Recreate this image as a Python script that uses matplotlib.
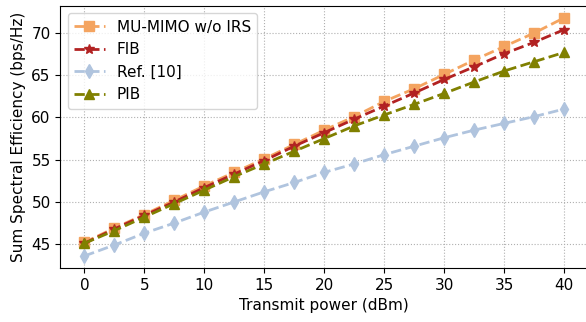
import matplotlib
matplotlib.use("Agg")
import matplotlib.pyplot as plt

power = [0, 2.5, 5, 7.5, 10, 12.5, 15, 17.5, 20, 22.5, 25, 27.5, 30, 32.5, 35, 37.5, 40]

mu_mimo = [45.2, 46.9, 48.5, 50.2, 51.9, 53.5, 55.1, 56.8, 58.5, 60.1,
           61.9, 63.4, 65.1, 66.8, 68.4, 70.0, 71.8]
fib = [45.1, 46.8, 48.4, 50.0, 51.7, 53.3, 54.9, 56.6, 58.2, 59.8,
       61.35, 62.9, 64.5, 66.0, 67.55, 68.9, 70.4]
ref10 = [43.6, 44.9, 46.3, 47.5, 48.8, 50.0, 51.2, 52.3, 53.5, 54.5,
         55.6, 56.6, 57.6, 58.5, 59.3, 60.1, 61.0]
pib = [45.1, 46.6, 48.2, 49.8, 51.4, 53.0, 54.5, 56.0, 57.5, 59.0,
       60.3, 61.55, 62.85, 64.2, 65.5, 66.6, 67.7]

fig, ax = plt.subplots(figsize=(5.86, 3.22), dpi=100)

ax.plot(power, mu_mimo, "--s", color="sandybrown", lw=2, ms=7, label="MU-MIMO w/o IRS")
ax.plot(power, fib, "--*", color="firebrick", lw=2, ms=7, label="FIB")
ax.plot(power, ref10, "--d", color="lightsteelblue", lw=2, ms=7, label="Ref. [10]")
ax.plot(power, pib, "--^", color="olive", lw=2, ms=7, label="PIB")

ax.set_xticks(range(0, 41, 5))
ax.set_xlabel("Transmit power (dBm)", fontsize=11)
ax.set_ylabel("Sum Spectral Efficiency (bps/Hz)", fontsize=11)
ax.tick_params(labelsize=11)
ax.grid(True, linestyle=":", color="#b0b0b0")
ax.legend(loc="upper left", fontsize=11)

fig.subplots_adjust(left=0.103, right=1.004, top=0.982, bottom=0.168)
fig.savefig("out.png")
